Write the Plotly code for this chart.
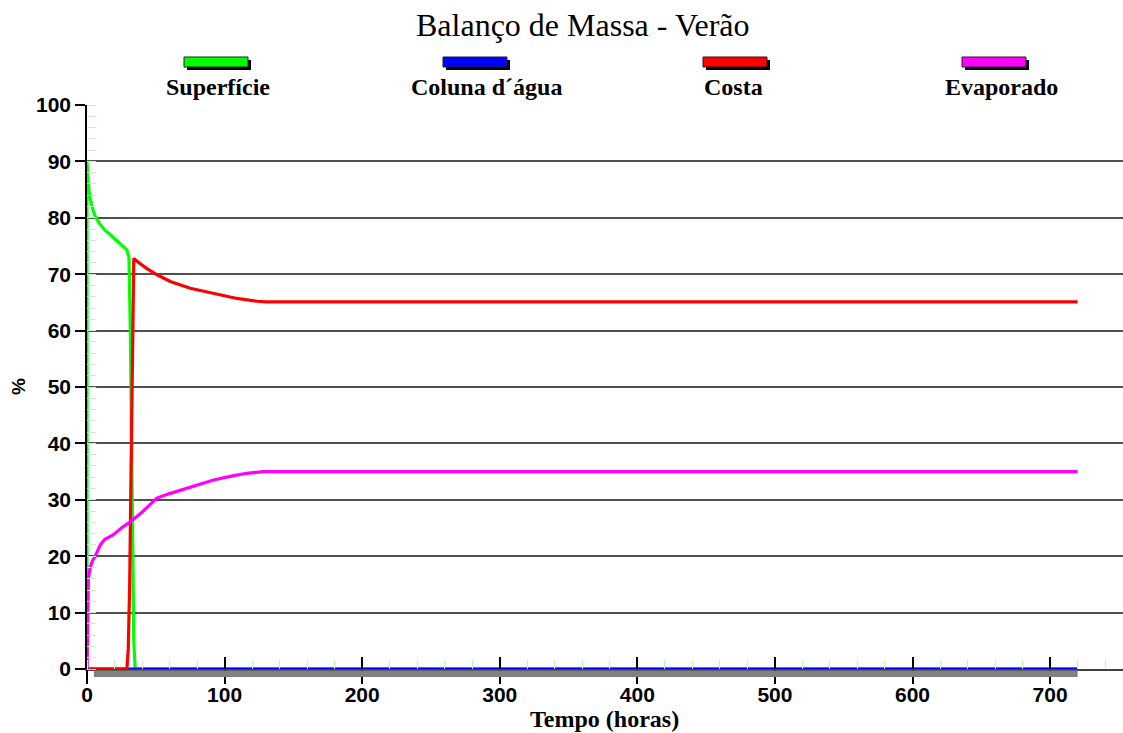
import plotly.graph_objects as go

# ---- series (tempo em horas, percentagem da massa) ----
sup_t = [0, 0, 1, 2, 4, 6, 9, 13, 17, 21, 25, 29, 30.5, 31.5, 32.5, 33.5, 34, 35, 720]
sup_v = [0, 90, 86, 83.7, 81.7, 80.2, 79, 77.8, 77, 76.1, 75.3, 74.3, 73, 60, 38, 22, 5, 0, 0]

col_t = [0, 720]
col_v = [0, 0]

cos_t = [0, 29, 30, 31, 32, 33, 34, 38, 43.6, 50.9, 60.5, 75, 92, 109, 123.5, 130, 720]
cos_v = [0, 0, 3.7, 14.6, 35, 58, 72.8, 72, 71, 69.9, 68.7, 67.5, 66.6, 65.7, 65.2, 65.1, 65.1]

eva_t = [0, 0.5, 1, 2.4, 4, 6, 9.7, 13, 19.3, 25, 31.5, 40, 50.8, 60, 67.8, 80, 92, 105, 116, 128, 720]
eva_v = [0, 11.5, 16, 18.1, 19.2, 20, 22, 23, 23.8, 25, 26.1, 27.8, 30.3, 31.1, 31.7, 32.7, 33.5, 34.2, 34.7, 35, 35]

names = ["Superfície", "Coluna d´água", "Costa", "Evaporado"]
colors = ["#00ff00", "#0000ff", "#ff0000", "#ff00ff"]

W, H = 1123, 733
L, R, T, B = 87, 0, 105, 64
PW, PH = W - L - R, H - T - B

def px(x):
    return (x - L) / PW

def py(y):
    return (H - B - y) / PH

SERIF = "Liberation Serif"
SANS = "Liberation Sans"

fig = go.Figure()
series = {
    0: (sup_t, sup_v),
    1: (col_t, col_v),
    2: (cos_t, cos_v),
    3: (eva_t, eva_v),
}
# drawing order: superfície, coluna, costa, evaporado
for i in [0, 1, 2, 3]:
    t, v = series[i]
    fig.add_trace(go.Scatter(
        x=t, y=v, mode="lines", name=names[i],
        line=dict(color=colors[i], width=3.2),
        showlegend=False, hoverinfo="x+y+name",
    ))

# empty traces so the two overlay tick axes get drawn
for ax in ["x2", "x3"]:
    fig.add_trace(go.Scatter(x=[], y=[], xaxis=ax, yaxis="y", mode="lines",
                             showlegend=False, hoverinfo="skip"))

shapes = []
# drop shadow under the zero line
shapes.append(dict(
    type="rect", xref="x", yref="paper",
    x0=col_t[0] + 5, x1=col_t[-1], y0=py(677), y1=py(670.5),
    fillcolor="#808080", line=dict(width=0), layer="above",
))

# custom legend: coloured bars with black shadow, labels underneath
bar_cx = [216, 475, 735, 994]
lab_cx = [218, 486, 733, 1001]
bw, bh = 64, 10
by = 57
annotations = []
for i in range(4):
    x0 = bar_cx[i] - bw / 2
    shapes.append(dict(type="rect", xref="paper", yref="paper",
                       x0=px(x0 + 3), x1=px(x0 + bw + 3), y0=py(by + bh + 3), y1=py(by + 3),
                       fillcolor="#000000", line=dict(width=0)))
    shapes.append(dict(type="rect", xref="paper", yref="paper",
                       x0=px(x0), x1=px(x0 + bw), y0=py(by + bh), y1=py(by),
                       fillcolor=colors[i], line=dict(color="#202020", width=1)))
    annotations.append(dict(
        text=names[i], xref="paper", yref="paper", x=px(lab_cx[i]), y=py(87),
        xanchor="center", yanchor="middle", showarrow=False,
        font=dict(family=SERIF, size=24, color="#000000", weight="bold"),
    ))

annotations.append(dict(
    text="Balanço de Massa - Verão", xref="paper", yref="paper",
    x=px(583), y=py(25), xanchor="center", yanchor="middle", showarrow=False,
    font=dict(family=SERIF, size=32, color="#000000"),
))
annotations.append(dict(
    text="Tempo (horas)", xref="paper", yref="paper",
    x=px(604), y=py(719), xanchor="center", yanchor="middle", showarrow=False,
    font=dict(family=SERIF, size=24, color="#000000", weight="bold"),
))
annotations.append(dict(
    text="%", xref="paper", yref="paper", textangle=-90,
    x=px(18), y=py(387), xanchor="center", yanchor="middle", showarrow=False,
    font=dict(family=SANS, size=19, color="#000000", weight="bold"),
))

XMAX = 753
tick_common = dict(range=[0, XMAX], dtick=100, tick0=0, showgrid=False, zeroline=False,
                   tickwidth=1.5, tickcolor="#000000", fixedrange=True)
fig.update_layout(
    width=W, height=H,
    margin=dict(l=L, r=R, t=T, b=B, pad=0),
    paper_bgcolor="white", plot_bgcolor="white",
    shapes=shapes, annotations=annotations,
    xaxis=dict(
        **tick_common,
        showline=True, linecolor="#404040", linewidth=2,
        ticks="outside", ticklen=6,
        tickfont=dict(family=SANS, size=21, color="#000000", weight="bold"),
        minor=dict(dtick=20, ticks="inside", ticklen=9, tickwidth=1.2,
                   tickcolor="#c8f0c8", showgrid=False),
    ),
    # longer outer part of the major x ticks
    xaxis2=dict(
        **tick_common, overlaying="x", anchor="y", side="bottom",
        showline=False, showticklabels=False, ticks="outside", ticklen=14,
    ),
    # inner part of the major x ticks
    xaxis3=dict(
        **tick_common, overlaying="x", anchor="y", side="bottom",
        showline=False, showticklabels=False, ticks="inside", ticklen=12,
    ),
    yaxis=dict(
        range=[0, 100], dtick=10, tick0=0,
        showgrid=True, gridcolor="#505050", gridwidth=1.6,
        zeroline=False,
        showline=True, linecolor="#000000", linewidth=1.5,
        ticks="outside", ticklen=10, tickwidth=1.5, tickcolor="#000000",
        tickfont=dict(family=SANS, size=21, color="#000000", weight="bold"),
        minor=dict(dtick=2, ticks="inside", ticklen=9, tickwidth=1.2,
                   tickcolor="#c8f0c8", showgrid=False),
        fixedrange=True,
    ),
)

fig.write_html("out.html")
